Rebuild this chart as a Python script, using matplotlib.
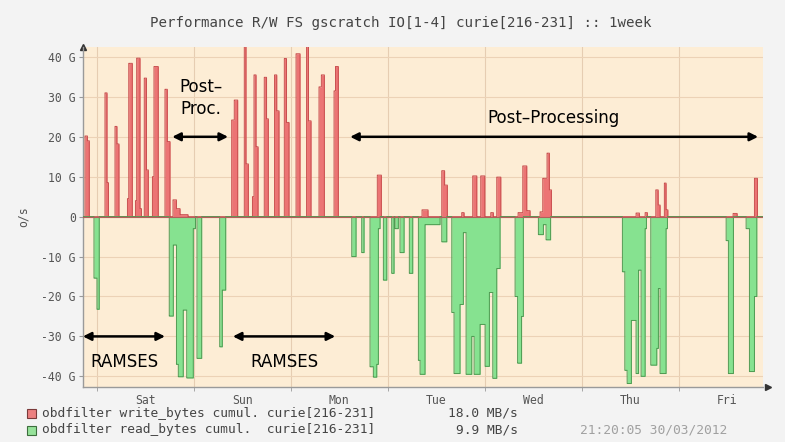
import numpy as np
import matplotlib.pyplot as plt
from matplotlib.patches import Rectangle

# Hours are counted from Saturday 00:00, throughput in GB/s.
# Each entry is (start hour, end hour, level) of a constant step.
write_steps = [
    (-2.89, -2.28, 20.2), (-2.28, -1.83, 19.0), (2.05, 2.55, 31.0), (2.55, 2.92, 8.5),
    (4.53, 5.02, 22.6), (5.02, 5.52, 18.2), (7.62, 7.94, 4.5), (7.94, 8.81, 38.4),
    (9.60, 9.90, 4.0), (9.90, 10.71, 39.7), (10.71, 11.08, 2.0), (11.78, 12.32, 34.7),
    (12.32, 12.77, 11.7), (13.80, 14.18, 10.0), (14.18, 15.24, 37.6), (16.90, 17.47, 31.9),
    (17.47, 18.13, 18.8), (18.88, 19.74, 4.2), (19.74, 20.61, 2.0), (20.61, 22.59, 0.5),
    (33.40, 34.04, 24.2), (34.04, 34.88, 29.2), (36.52, 36.94, 42.6), (36.94, 37.51, 13.2),
    (38.54, 38.92, 5.0), (38.92, 39.41, 35.5), (39.41, 39.91, 17.5), (41.46, 42.01, 34.9),
    (42.01, 42.45, 24.5), (43.99, 44.53, 35.5), (44.53, 45.10, 26.5), (46.41, 46.96, 39.6),
    (46.96, 47.58, 23.6), (49.31, 50.30, 40.8), (51.91, 52.40, 42.8), (52.40, 53.02, 24.0),
    (55.00, 55.57, 32.5), (55.57, 56.31, 35.5), (58.71, 59.08, 31.5), (59.08, 59.77, 37.6),
    (69.42, 70.41, 10.4), (80.48, 81.96, 1.7), (85.35, 86.05, 11.5), (86.05, 86.74, 7.9),
    (90.30, 90.87, 1.0), (93.02, 94.01, 10.2), (95.00, 95.99, 10.2), (97.48, 98.12, 1.0),
    (98.96, 99.95, 9.9), (104.23, 105.39, 1.0), (105.39, 106.38, 12.7), (106.38, 107.20, 1.5),
    (109.67, 110.34, 1.2), (110.34, 111.40, 9.6), (111.40, 111.97, 15.9), (111.97, 112.47, 6.7),
    (133.42, 134.24, 0.9), (135.65, 136.22, 1.0), (138.30, 138.87, 6.7), (138.87, 139.36, 2.9),
    (140.42, 140.84, 8.4), (140.84, 141.27, 1.7), (157.42, 158.41, 0.8), (162.69, 163.43, 9.6),
]

read_steps = [
    (-0.67, 0.07, 15.4), (0.07, 0.64, 23.2),
    (17.96, 18.95, 24.9), (18.95, 19.74, 7.1), (19.74, 20.19, 37.0), (20.19, 21.42, 40.1),
    (21.42, 22.27, 23.4), (22.27, 23.90, 40.4), (23.90, 24.44, 3.0), (24.81, 25.98, 35.5),
    (30.43, 31.07, 32.6), (31.07, 31.91, 18.4),
    (63.09, 64.15, 10.0), (65.56, 66.13, 9.0),
    (67.62, 68.43, 37.6), (68.43, 69.27, 40.2), (69.27, 69.67, 37.0), (69.67, 70.09, 3.0),
    (70.91, 71.75, 15.9), (72.98, 73.55, 14.2), (73.80, 74.62, 3.0), (75.04, 76.03, 9.0),
    (77.34, 78.18, 14.2), (79.57, 80.00, 36.0), (80.00, 81.22, 39.5), (81.22, 84.93, 2.0),
    (85.35, 86.59, 6.3),
    (87.83, 88.40, 24.0), (88.40, 89.88, 39.3), (89.88, 90.70, 22.0), (90.70, 91.37, 4.0),
    (91.37, 92.78, 39.5), (92.78, 93.35, 30.0), (93.35, 94.83, 39.5), (94.83, 96.07, 27.0),
    (96.07, 97.13, 37.5), (97.13, 97.97, 19.0), (97.97, 98.96, 40.5), (98.96, 99.78, 13.0),
    (103.49, 104.11, 20.0), (104.11, 105.10, 36.7), (105.10, 105.54, 25.0),
    (109.25, 110.49, 4.5), (110.49, 111.16, 2.0), (111.16, 112.27, 5.8),
    (130.03, 130.63, 13.8), (130.63, 131.20, 38.5), (131.20, 132.26, 41.8), (132.26, 133.42, 26.0),
    (133.42, 134.04, 39.3), (134.04, 134.66, 13.4), (134.66, 135.65, 40.0), (135.65, 135.97, 3.0),
    (137.06, 138.54, 37.2), (138.54, 138.94, 33.0), (138.94, 139.36, 18.0), (139.36, 140.84, 39.3),
    (140.84, 141.17, 3.0),
    (155.69, 156.26, 6.0), (156.26, 157.49, 39.3),
    (160.64, 161.45, 3.0), (161.45, 162.69, 38.8), (162.69, 163.28, 20.0),
]

day_names = ['Sat', 'Sun', 'Mon', 'Tue', 'Wed', 'Thu', 'Fri']
y_ticks = [-40, -30, -20, -10, 0, 10, 20, 30, 40]
y_labels = ['-40 G', '-30 G', '-20 G', '-10 G', '0', '10 G', '20 G', '30 G', '40 G']

legend_names = ['obdfilter write_bytes cumul. curie[216-231]',
                'obdfilter read_bytes cumul.  curie[216-231]']
legend_avg = ['18.0 MB/s', '9.9 MB/s']
stamp = '21:20:05 30/03/2012'

t_min, t_max = -3.46, 164.8
y_min, y_max = -42.6, 42.5

BG = '#f3f3f3'
CANVAS = '#fdedd5'
RED_FILL, RED_EDGE = '#ec7474', '#c94f4f'
GREEN_FILL, GREEN_EDGE = '#86e290', '#4f9a52'
MONO = 'DejaVu Sans Mono'


def to_series(steps, t):
    y = np.zeros_like(t)
    for start, end, level in steps:
        y[(t >= start) & (t < end)] = level
    return y


t = np.arange(t_min, t_max, 0.02)
write = to_series(write_steps, t)
read = -to_series(read_steps, t)

fig = plt.figure(figsize=(7.85, 4.42), dpi=100, facecolor=BG)
ax = fig.add_axes([0.1053, 0.1251, 0.8666, 0.7686])
ax.set_facecolor(CANVAS)

# grid: day boundaries and 10G steps
ax.set_xticks([24 * d for d in range(len(day_names))], minor=True)
ax.set_xticks([24 * d + 12 for d in range(len(day_names))])
ax.set_xticklabels(day_names)
ax.set_yticks(y_ticks)
ax.set_yticklabels(y_labels)
ax.grid(which='minor', axis='x', color='#e6cdb2', lw=0.8, zorder=0)
ax.grid(which='major', axis='y', color='#ecd2b6', lw=0.8, zorder=0)
ax.grid(which='major', axis='x', visible=False)

ax.fill_between(t, 0, write, step='post', color=RED_FILL, lw=0, zorder=2)
ax.step(t, write, where='post', color=RED_EDGE, lw=0.7, zorder=3)
ax.fill_between(t, 0, read, step='post', color=GREEN_FILL, lw=0, zorder=2)
ax.step(t, read, where='post', color=GREEN_EDGE, lw=0.7, zorder=3)
ax.axhline(0, color='#b0605a', lw=0.8, zorder=4)

ax.set_xlim(t_min, t_max)
ax.set_ylim(y_min, y_max)

for side in ['top', 'right']:
    ax.spines[side].set_visible(False)
for side in ['left', 'bottom']:
    ax.spines[side].set_color('#9a9a9a')
    ax.spines[side].set_linewidth(1.0)
ax.tick_params(axis='y', which='major', length=3, color='#9a9a9a',
               labelsize=8.3, labelcolor='#555555', pad=2)
ax.tick_params(axis='x', which='major', length=0, labelsize=8.3,
               labelcolor='#555555', pad=5)
ax.tick_params(axis='x', which='minor', length=3, color='#9a9a9a')
for lab in ax.get_xticklabels() + ax.get_yticklabels():
    lab.set_family(MONO)

# axis arrow tips
ax.plot(0, 1.0, marker='^', ms=4, color='#333333', transform=ax.transAxes, clip_on=False)
ax.plot(1.008, 0, marker='>', ms=4, color='#333333', transform=ax.transAxes, clip_on=False)

ax.set_ylabel('o/s', family=MONO, fontsize=8.3, color='#555555', labelpad=8)
fig.text(0.511, 0.948, 'Performance R/W FS gscratch IO[1-4] curie[216-231] :: 1week',
         family=MONO, fontsize=10.2, color='#444444', ha='center', va='center')

# phase annotations
arrow = dict(arrowstyle='<|-|>', color='black', lw=1.8, mutation_scale=12,
             shrinkA=0, shrinkB=0)
ax.annotate('', xy=(18.7, 20), xytext=(32.5, 20), arrowprops=arrow, zorder=6)
ax.annotate('', xy=(62.7, 20), xytext=(163.6, 20), arrowprops=arrow, zorder=6)
ax.annotate('', xy=(-3.4, -30), xytext=(16.9, -30), arrowprops=arrow, zorder=6)
ax.annotate('', xy=(33.7, -30), xytext=(59.0, -30), arrowprops=arrow, zorder=6)
ax.text(25.7, 32.4, 'Post–', ha='center', va='center', fontsize=12, zorder=6)
ax.text(25.7, 27.0, 'Proc.', ha='center', va='center', fontsize=12, zorder=6)
ax.text(113.1, 24.7, 'Post–Processing', ha='center', va='center', fontsize=12, zorder=6)
ax.text(6.9, -36.5, 'RAMSES', ha='center', va='center', fontsize=12, zorder=6)
ax.text(46.4, -36.5, 'RAMSES', ha='center', va='center', fontsize=12, zorder=6)

# legend rows
box_fill = ['#ec8080', '#96e29a']
box_edge = ['#7a3a3a', '#3d6e3d']
rows_y = [1 - 413 / 442, 1 - 430 / 442]
for name, avg, fc, ec, ry in zip(legend_names, legend_avg, box_fill, box_edge, rows_y):
    fig.patches.append(Rectangle((27 / 785, ry - 4.5 / 442), 9 / 785, 9 / 442,
                                 transform=fig.transFigure, facecolor=fc,
                                 edgecolor=ec, lw=0.8))
    fig.text(42 / 785, ry, name, family=MONO, fontsize=9.3, color='#444444', va='center')
    fig.text(518 / 785, ry, avg, family=MONO, fontsize=9.3, color='#444444',
             va='center', ha='right')
fig.text(727 / 785, rows_y[1], stamp, family=MONO, fontsize=9.3, color='#a0a0a0',
         va='center', ha='right')

fig.savefig('out.png', dpi=100, facecolor=BG)
